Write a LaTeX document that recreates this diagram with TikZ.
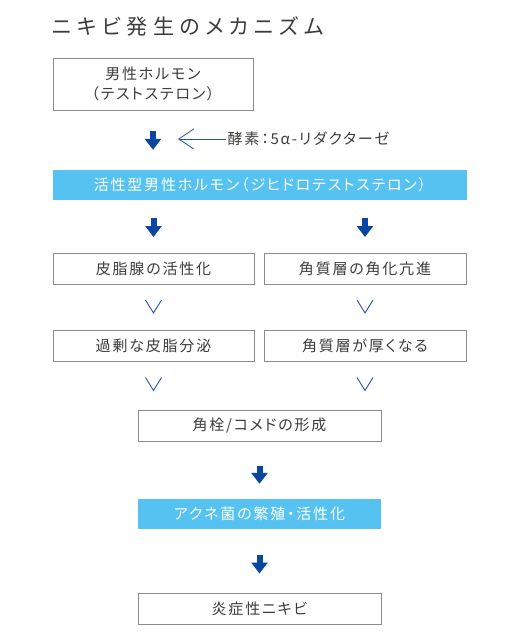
\documentclass[tikz,border=0pt]{standalone}
\usepackage{fontspec}
\setmainfont{Noto Sans CJK JP}
\newfontfamily\jpbody{Noto Sans CJK JP}[LetterSpace=12, RawFeature=+palt]
\newfontfamily\jptitle{Noto Sans CJK JP}[LetterSpace=26, RawFeature=+palt]
\usetikzlibrary{positioning, calc, arrows.meta}

\definecolor{txtgray}{HTML}{3C3C3C}
\definecolor{boxgray}{HTML}{8C8C8C}
\definecolor{skyblue}{HTML}{56C2F1}
\definecolor{navyarrow}{HTML}{0A459F}
\definecolor{thinblue}{HTML}{2356A8}

\tikzset{
  stagebox/.style={draw=boxgray, line width=1pt, fill=white, text=txtgray,
    minimum width=200pt, minimum height=31pt, inner sep=0pt,
    font=\jpbody\fontsize{15}{19.5}\selectfont},
  keybox/.style={fill=skyblue, text=white, minimum height=30pt, inner sep=0pt,
    font=\jpbody\fontsize{15}{19.5}\selectfont},
  flow/.style={draw=navyarrow, line width=6pt, -{Triangle[width=16pt,length=11pt]}},
  chevron/.style={draw=thinblue, line width=0.9pt},
  enzyme line/.style={draw=thinblue, line width=0.8pt,
    -{Straight Barb[width=20pt,length=15pt,line width=0.8pt]}}
}

\begin{document}
\begin{tikzpicture}[x=1pt, y=-1pt]
    \useasboundingbox (0,0) rectangle (520,640);

    % Title
    \node[anchor=west, inner sep=0pt, text=txtgray,
          font=\jptitle\fontsize{21}{24}\selectfont] (title) at (52,26) {ニキビ発生のメカニズム};

    % Male hormone
    \node[stagebox, minimum height=52pt, align=center] (hormone) at (153,84)
        {男性ホルモン\\（テストステロン）};

    % Enzyme label with arrow
    \node[anchor=west, inner sep=1.5pt, text=txtgray,
          font=\jpbody\fontsize{15}{19.5}\selectfont] (enzyme) at (226,139) {酵素：5α-リダクターゼ};
    \coordinate (enzymetip) at (178,139);
    \draw[enzyme line] (enzyme.west) -- (enzymetip);

    % Active male hormone
    \node[keybox, minimum width=414pt] (dht) at (260,184.5)
        {活性型男性ホルモン（ジヒドロテストステロン）};
    \draw[flow, shorten <=20pt, shorten >=19.5pt] (hormone.south) -- (hormone.south |- dht.north);

    % Two branches
    \node[stagebox, minimum width=201pt] (sebum) at (153.5,269) {皮脂腺の活性化};
    \node[stagebox, minimum width=202pt] (horny) at (365,269) {角質層の角化亢進};
    \draw[flow, shorten <=18.5pt, shorten >=16pt] (dht.south -| sebum.north) -- (sebum.north);
    \draw[flow, shorten <=18.5pt, shorten >=16pt] (dht.south -| horny.north) -- (horny.north);

    \node[stagebox, minimum width=201pt] (excess) at (153.5,345.5) {過剰な皮脂分泌};
    \node[stagebox, minimum width=202pt] (thick) at (365,345.5) {角質層が厚くなる};
    \draw[chevron] ($(sebum.south)+(-8,15)$) -- ++(8,13) -- ++(8,-13);
    \draw[chevron] ($(horny.south)+(-8,15)$) -- ++(8,13) -- ++(8,-13);

    % Comedo
    \node[stagebox, minimum width=243pt] (comedo) at (259.5,425.5) {角栓/コメドの形成};
    \draw[chevron] ($(excess.south)+(-8,16)$) -- ++(8,13) -- ++(8,-13);
    \draw[chevron] ($(thick.south)+(-8,16)$) -- ++(8,13) -- ++(8,-13);

    % Acne bacteria
    \node[keybox, minimum width=243pt] (acnes) at (259.5,514) {アクネ菌の繁殖・活性化};
    \draw[flow, shorten <=24pt, shorten >=15pt] (comedo.south) -- (acnes.north);

    % Inflamed acne
    \node[stagebox, minimum width=243pt] (inflamed) at (259.5,608.5) {炎症性ニキビ};
    \draw[flow, shorten <=26pt, shorten >=19pt] (acnes.south) -- (inflamed.north);
\end{tikzpicture}
\end{document}
